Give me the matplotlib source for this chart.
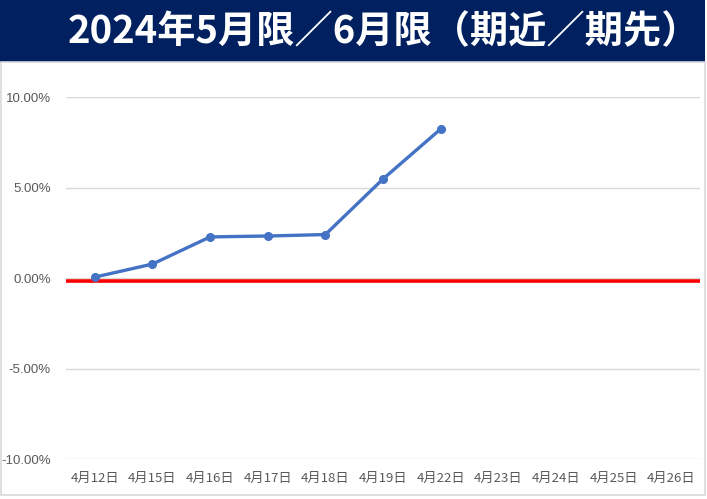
import matplotlib
matplotlib.use('Agg')
import matplotlib.pyplot as plt
from matplotlib.patches import Rectangle
from matplotlib.ticker import FuncFormatter

title = '2024年5月限／6月限（期近／期先）'
dates = ['4月12日', '4月15日', '4月16日', '4月17日', '4月18日', '4月19日',
         '4月22日', '4月23日', '4月24日', '4月25日', '4月26日']
spread = [0.05, 0.77, 2.27, 2.32, 2.40, 5.47, 8.23]   # % , data so far
baseline = -0.15
yticks = [-10, -5, 0, 5, 10]

W, H = 707, 499
fig = plt.figure(figsize=(W / 100, H / 100), dpi=100)

# title band and outer frame (pixel coords from top-left)
fig.patches.append(Rectangle((0, 1 - 62 / H), 705 / W, 62 / H, transform=fig.transFigure,
                             facecolor='#002060', edgecolor='none', zorder=0))
fig.patches.append(Rectangle((1 / W, 1 - 495 / H), 704 / W, (495 - 62) / H,
                             transform=fig.transFigure, facecolor='none',
                             edgecolor='#D9D9D9', linewidth=1.2, zorder=0))
fig.text(384 / W, 1 - 32 / H, title, color='white', fontsize=27.5, fontweight='bold',
         family=['Noto Sans CJK JP', 'DejaVu Sans'], ha='center', va='center')

left, right, top, bottom = 66, 700, 97, 459
ax = fig.add_axes([left / W, 1 - bottom / H, (right - left) / W, (bottom - top) / H])

x = list(range(len(dates)))
ax.axhline(baseline, color='#FF0000', linewidth=2.6, zorder=2, solid_capstyle='butt')
ax.plot(x[:len(spread)], spread, color='#4472C4', linewidth=2.4, marker='o',
        markersize=5.5, zorder=3)

ax.set_xlim(-0.5, len(dates) - 0.5)
ax.set_ylim(-10, 10)
ax.set_yticks(yticks)
ax.yaxis.set_major_formatter(FuncFormatter(lambda v, p: '{:.2f}%'.format(v)))
ax.set_xticks(x)
ax.set_xticklabels(dates, family=['Noto Sans CJK JP', 'DejaVu Sans'], fontsize=9.5,
                   color='#595959')
for lab in ax.get_yticklabels():
    lab.set_family(['Liberation Sans', 'DejaVu Sans'])
    lab.set_fontsize(9.5)
    lab.set_color('#595959')
ax.tick_params(axis='y', length=0, pad=11)
ax.tick_params(axis='x', length=0, pad=9)
ax.grid(axis='y', color='#D9D9D9', linewidth=1)
ax.set_axisbelow(True)
for s in ax.spines.values():
    s.set_visible(False)

fig.savefig('out.png', dpi=100)
